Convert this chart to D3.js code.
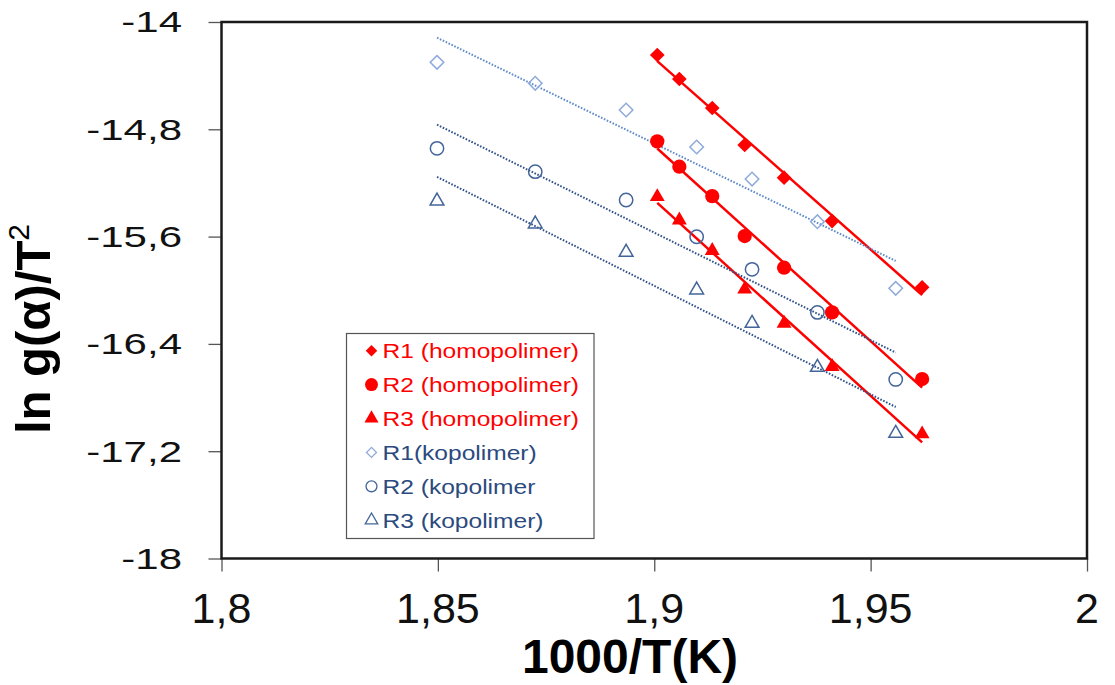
<!DOCTYPE html>
<html>
<head>
<meta charset="utf-8">
<script src="https://cdn.jsdelivr.net/npm/d3@7"></script>
<style>
  html, body { margin: 0; padding: 0; background: #fff; }
  svg { display: block; font-family: "Liberation Sans", Arial, sans-serif; }
</style>
</head>
<body>
<svg id="chart" width="1115" height="685"></svg>
<script>
// 1000/T values for each material
const xHomo = [1.9007, 1.9058, 1.9134, 1.9209, 1.9300, 1.9411, 1.9619];
const xKop  = [1.8498, 1.8725, 1.8935, 1.9098, 1.9226, 1.9377, 1.9558];

// ln g(alpha)/T^2 for each reaction model
const r1Homo = [-14.246, -14.425, -14.641, -14.917, -15.161, -15.484, -15.978];
const r2Homo = [-14.890, -15.079, -15.298, -15.596, -15.832, -16.165, -16.662];
const r3Homo = [-15.303, -15.477, -15.705, -15.993, -16.247, -16.570, -17.072];
const r1Kop  = [-14.301, -14.457, -14.656, -14.932, -15.171, -15.489, -15.986];
const r2Kop  = [-14.942, -15.116, -15.327, -15.601, -15.844, -16.165, -16.665];
const r3Kop  = [-15.335, -15.506, -15.717, -15.998, -16.247, -16.575, -17.067];

const seriesNames = ["R1 (homopolimer)", "R2 (homopolimer)", "R3 (homopolimer)",
                     "R1(kopolimer)", "R2 (kopolimer", "R3 (kopolimer)"];

const xTicks = [1.8, 1.85, 1.9, 1.95, 2];
const yTicks = [-14, -14.8, -15.6, -16.4, -17.2, -18];

const RED = "#ff0000", LIGHT = "#8eaadb", DARK = "#44659a";

const series = [
  { name: seriesNames[0], x: xHomo, y: r1Homo, shape: "diamond",  fill: RED,  stroke: "none", line: RED,  dotted: false, size: 108, lsize: 66 },
  { name: seriesNames[1], x: xHomo, y: r2Homo, shape: "circle",   fill: RED,  stroke: "none", line: RED,  dotted: false, size: 160, lsize: 132 },
  { name: seriesNames[2], x: xHomo, y: r3Homo, shape: "triangle", fill: RED,  stroke: "none", line: RED,  dotted: false, size: 96,  lsize: 86 },
  { name: seriesNames[3], x: xKop,  y: r1Kop,  shape: "diamond",  fill: "none", stroke: LIGHT, line: "#5f8bc9", dotted: true, size: 92, lsize: 50 },
  { name: seriesNames[4], x: xKop,  y: r2Kop,  shape: "circle",   fill: "none", stroke: DARK,  line: "#30528a", dotted: true, size: 140, lsize: 94 },
  { name: seriesNames[5], x: xKop,  y: r3Kop,  shape: "triangle", fill: "none", stroke: DARK,  line: "#30528a", dotted: true, size: 82, lsize: 68 }
];

const svg = d3.select("#chart");
const plot = { left: 221.5, right: 1087, top: 22, bottom: 558.5 };

const x = d3.scaleLinear().domain([1.8, 2]).range([plot.left, plot.right]);
const y = d3.scaleLinear().domain([-18, -14]).range([plot.bottom, plot.top]);

const comma = v => String(v).replace(".", ",");

// axes
const yAxis = svg.append("g")
  .attr("transform", `translate(${plot.left},0)`)
  .call(d3.axisLeft(y).tickValues(yTicks).tickSize(13).tickFormat(""));
const xAxis = svg.append("g")
  .attr("transform", `translate(0,${plot.bottom})`)
  .call(d3.axisBottom(x).tickValues(xTicks).tickSize(13).tickFormat(""));
[yAxis, xAxis].forEach(a => {
  a.select(".domain").remove();
  a.selectAll(".tick line").attr("stroke", "#555").attr("stroke-width", 1.3);
});

// y tick labels (condensed vertically)
svg.append("g").selectAll("g")
  .data(yTicks).join("g")
  .attr("transform", d => `translate(182,${y(d)}) scale(1,0.69)`)
  .append("text")
  .attr("text-anchor", "end")
  .attr("dy", "0.36em")
  .attr("font-size", 42)
  .attr("fill", "#111")
  .text(d => comma(d));

// x tick labels
svg.append("g").selectAll("text")
  .data(xTicks).join("text")
  .attr("x", d => x(d))
  .attr("y", 623)
  .attr("text-anchor", "middle")
  .attr("font-size", 43)
  .attr("fill", "#111")
  .text(d => comma(d));

// plot frame
svg.append("rect")
  .attr("x", plot.left).attr("y", plot.top)
  .attr("width", plot.right - plot.left).attr("height", plot.bottom - plot.top)
  .attr("fill", "none").attr("stroke", "#1a1a1a").attr("stroke-width", 2.5);

// linear trend lines (least squares) over each series' data range
function fit(xs, ys) {
  const n = xs.length, mx = d3.mean(xs), my = d3.mean(ys);
  let sxy = 0, sxx = 0;
  for (let i = 0; i < n; i++) { sxy += (xs[i] - mx) * (ys[i] - my); sxx += (xs[i] - mx) ** 2; }
  const b = sxy / sxx, a = my - b * mx;
  return v => a + b * v;
}

const lines = svg.append("g");
series.forEach(s => {
  const f = fit(s.x, s.y);
  const [x0, x1] = d3.extent(s.x);
  lines.append("line")
    .attr("x1", x(x0)).attr("y1", y(f(x0)))
    .attr("x2", x(x1)).attr("y2", y(f(x1)))
    .attr("stroke", s.line)
    .attr("stroke-width", s.dotted ? 2 : 2.5)
    .attr("stroke-dasharray", s.dotted ? "1.6,1.6" : null);
});

function symbolPath(shape, size) {
  if (shape === "circle") return d3.symbol(d3.symbolCircle, size)();
  if (shape === "triangle") return d3.symbol(d3.symbolTriangle, size)();
  return d3.symbol(d3.symbolSquare, size)();
}
const rot = shape => shape === "diamond" ? " rotate(45)" : "";

// markers
series.forEach(s => {
  svg.append("g").selectAll("path")
    .data(s.x.map((v, i) => [v, s.y[i]])).join("path")
    .attr("d", symbolPath(s.shape, s.size))
    .attr("transform", d => `translate(${x(d[0])},${y(d[1])})${rot(s.shape)}`)
    .attr("fill", s.fill)
    .attr("stroke", s.stroke)
    .attr("stroke-width", 1.5);
});

// legend
const lg = svg.append("g");
lg.append("rect")
  .attr("x", 346.5).attr("y", 333.5).attr("width", 247.5).attr("height", 205)
  .attr("fill", "#fff").attr("stroke", "#555").attr("stroke-width", 1.2);
series.forEach((s, i) => {
  const cy = 350.7 + i * 33.9;
  lg.append("path")
    .attr("d", symbolPath(s.shape, s.lsize))
    .attr("transform", `translate(371.5,${cy})${rot(s.shape)}`)
    .attr("fill", s.fill).attr("stroke", s.stroke).attr("stroke-width", 1.3);
  lg.append("g")
    .attr("transform", `translate(382.5,${cy}) scale(1.17,1)`)
    .append("text")
    .attr("dy", "0.36em")
    .attr("font-size", 21)
    .attr("fill", i < 3 ? RED : "#2b4a7e")
    .text(s.name);
});

// axis titles
svg.append("text")
  .attr("x", 630).attr("y", 673)
  .attr("text-anchor", "middle")
  .attr("font-size", 48).attr("font-weight", "bold")
  .attr("fill", "#000")
  .text("1000/T(K)");

const yTitle = svg.append("text")
  .attr("transform", "translate(50,329) rotate(-90)")
  .attr("text-anchor", "middle")
  .attr("font-size", 49).attr("font-weight", "bold")
  .attr("fill", "#000");
yTitle.append("tspan").text("ln g(α)/T");
yTitle.append("tspan")
  .attr("font-size", 30).attr("font-weight", "normal")
  .attr("dy", "-0.7em")
  .text("2");
</script>
</body>
</html>
